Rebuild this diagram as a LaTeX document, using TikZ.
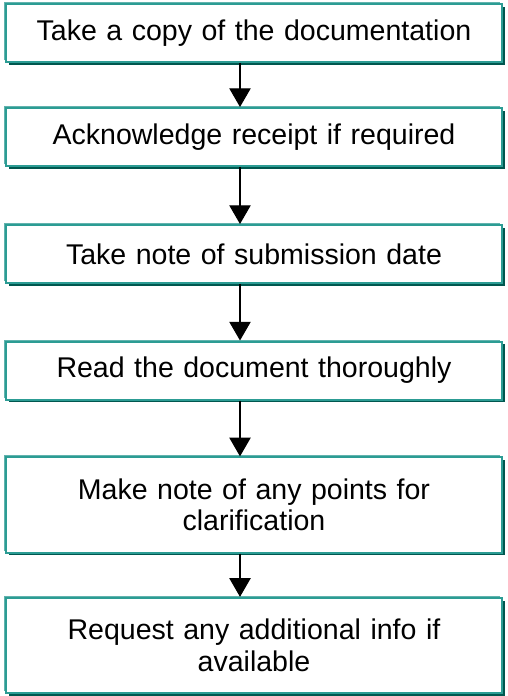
\documentclass[tikz,border=0pt]{standalone}
\usepackage{fontspec}
\setmainfont{Liberation Sans}
\usetikzlibrary{shadows,arrows.meta}
\definecolor{lightteal}{HTML}{62B3AE}
\definecolor{midteal}{HTML}{2C9C94}
\definecolor{darkteal}{HTML}{00574F}
\begin{document}
\begin{tikzpicture}[x=0.75pt,y=-0.75pt,
	stepbox/.style={draw=midteal, line width=1.5pt, fill=white, minimum width=372pt,
		text width=350pt, align=center, inner sep=0pt,
		font=\fontsize{21.4}{23.6}\selectfont,
		general shadow={fill=lightteal, shadow xshift=-1.5pt, shadow yshift=1.5pt},
		general shadow={fill=darkteal, shadow xshift=2pt, shadow yshift=-2pt}},
	single/.style={minimum height=43.5pt},
	twoline/.style={minimum height=71.5pt},
	flow/.style={-{Triangle[width=16pt,length=14pt]}, line width=0.8pt}]
	\useasboundingbox (0,0) rectangle (507,696);
	\coordinate (ax) at (240,0);
	\node [stepbox,single] (copy) at (254,33) {Take a copy of the documentation};
	\node [stepbox,single] (receipt) at (254,137) {Acknowledge receipt if required};
	\node [stepbox,single] (date) at (254,254) {Take note of submission date};
	\node [stepbox,single] (read) at (254,370.5) {Read the document thoroughly};
	\node [stepbox,twoline] (points) at (254,505) {Make note of any points for\\clarification};
	\node [stepbox,twoline] (info) at (254,645.5) {Request any additional info if\\available};
	% frecce tra i passi
	\draw [flow] (copy.south -| ax) -- (receipt.north -| ax);
	\draw [flow] (receipt.south -| ax) -- (date.north -| ax);
	\draw [flow] (date.south -| ax) -- (read.north -| ax);
	\draw [flow] (read.south -| ax) -- (points.north -| ax);
	\draw [flow] (points.south -| ax) -- (info.north -| ax);
\end{tikzpicture}
\end{document}
